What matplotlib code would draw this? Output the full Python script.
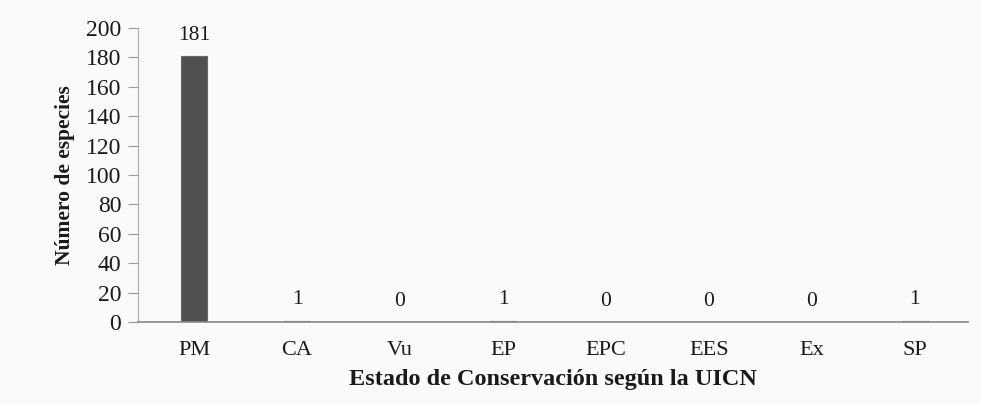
import matplotlib
matplotlib.use("Agg")
import matplotlib.pyplot as plt

categories = ["PM", "CA", "Vu", "EP", "EPC", "EES", "Ex", "SP"]
values = [181, 1, 0, 1, 0, 0, 0, 1]
yticks = [0, 20, 40, 60, 80, 100, 120, 140, 160, 180, 200]

plt.rcParams['font.family'] = ['Liberation Serif', 'DejaVu Serif']

bg = "#fafafa"
fig = plt.figure(figsize=(9.81, 4.04), dpi=100, facecolor=bg)
ax = fig.add_axes([138/981, (404-322)/404, (968-138)/981, (322-28)/404])
ax.set_facecolor(bg)

x = list(range(len(categories)))
ax.bar(x, values, width=0.245, color="#505050", edgecolor="#6a6a6a", linewidth=0.8)
for xi, v in zip(x, values):
    ax.annotate(str(v), (xi, v), xytext=(0, 8), textcoords="offset points",
                ha="center", va="bottom", fontsize=15.5, color="#1a1a1a")

ax.set_xlim(-0.544, 7.515)
ax.set_ylim(0, 200)
ax.set_yticks(yticks)
ax.set_xticks(x)
ax.set_xticklabels(categories, fontsize=16)
ax.tick_params(axis="x", length=0, pad=14, colors="#1a1a1a")
ax.tick_params(axis="y", length=7, width=0.8, color="#999999", labelsize=17, labelcolor="#1a1a1a", pad=5)

for s in ["top", "right"]:
    ax.spines[s].set_visible(False)
ax.spines["left"].set_color("#aaaaaa")
ax.spines["bottom"].set_color("#888888")
ax.spines["bottom"].set_linewidth(1.2)

ax.set_xlabel("Estado de Conservación según la UICN", fontsize=17.5, fontweight="bold", labelpad=6, color="#1a1a1a")
ax.set_ylabel("Número de especies", fontsize=15.5, fontweight="bold", labelpad=8, color="#1a1a1a")

fig.savefig("out.png", dpi=100, facecolor=bg)
